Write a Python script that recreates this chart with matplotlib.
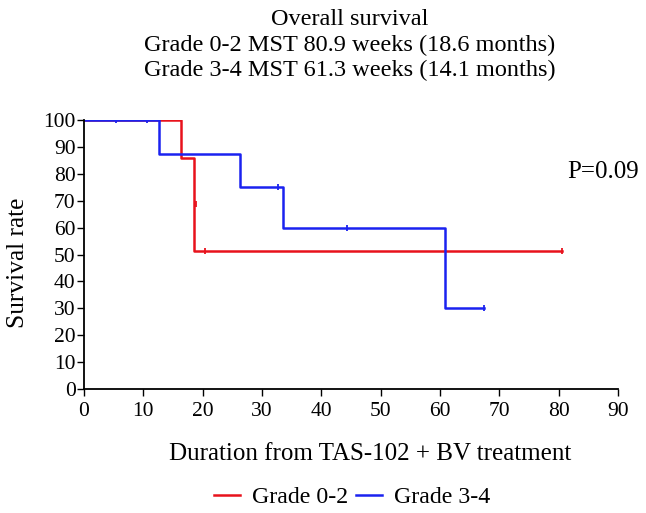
import matplotlib
matplotlib.use("Agg")
import matplotlib.pyplot as plt

plt.rcParams["font.family"] = ["Liberation Serif", "DejaVu Serif"]

# Kaplan-Meier steps
red_t = [0, 16.4, 18.6, 80.6]
red_s = [100, 85.7, 51.4, 51.4]
red_cens_t = [18.8, 20.4, 80.6]
red_cens_s = [68.6, 51.4, 51.4]

blue_t = [0, 12.7, 26.3, 33.5, 60.8, 67.4]
blue_s = [100, 87.5, 75, 60, 30, 30]
blue_cens_t = [5.4, 10.6, 32.7, 44.4, 67.4]
blue_cens_s = [100, 100, 75, 60, 30]

x_ticks = list(range(0, 91, 10))
y_ticks = list(range(0, 101, 10))

title_lines = ["Overall survival",
               "Grade 0-2 MST 80.9 weeks (18.6 months)",
               "Grade 3-4 MST 61.3 weeks (14.1 months)"]

W, H = 646, 513
fig = plt.figure(figsize=(W / 100, H / 100), dpi=100)
ax = fig.add_axes([84 / W, 1 - 389 / H, 534 / W, 269 / H])

ax.step(red_t, red_s, where="post", color="#e8121c", lw=1.8, label="Grade 0-2")
ax.step(blue_t, blue_s, where="post", color="#1a22f0", lw=1.8, label="Grade 3-4")
ax.plot(red_cens_t, red_cens_s, ls="none", marker="|", ms=5, mew=1.3, color="#e8121c")
ax.plot(blue_cens_t, blue_cens_s, ls="none", marker="|", ms=5, mew=1.3, color="#1a22f0")

ax.set_xlim(0, 90)
ax.set_ylim(0, 100)
ax.set_xticks(x_ticks)
ax.set_yticks(y_ticks)
ax.tick_params(direction="out", length=5, width=1, colors="black")
ax.tick_params(axis="y", labelsize=15.5, pad=1)
ax.tick_params(axis="x", labelsize=15.5, pad=4)
ax.spines["top"].set_visible(False)
ax.spines["right"].set_visible(False)
ax.spines["left"].set_linewidth(1.3)
ax.spines["bottom"].set_linewidth(1.3)

fig.text(18 / W, 1 - 263 / H, "Survival rate", rotation=90, fontsize=18.3,
         ha="center", va="center")
fig.text(370 / W, 1 - 460 / H, "Duration from TAS-102 + BV treatment",
         fontsize=18, ha="center", va="baseline")

ax.text(87.5, 80.5, "P=0.09", fontsize=18, ha="center", va="center")

for line, base in zip(title_lines, [25, 51, 76]):
    fig.text(350 / W, 1 - base / H, line, ha="center", va="baseline", fontsize=17.5)

fig.legend(loc="center", bbox_to_anchor=(352 / W, 1 - 497 / H), ncol=2, frameon=False,
           fontsize=17.2, handlelength=1.1, handletextpad=0.5, columnspacing=0.3,
           borderpad=0, borderaxespad=0)

fig.savefig("out.png", dpi=100)
